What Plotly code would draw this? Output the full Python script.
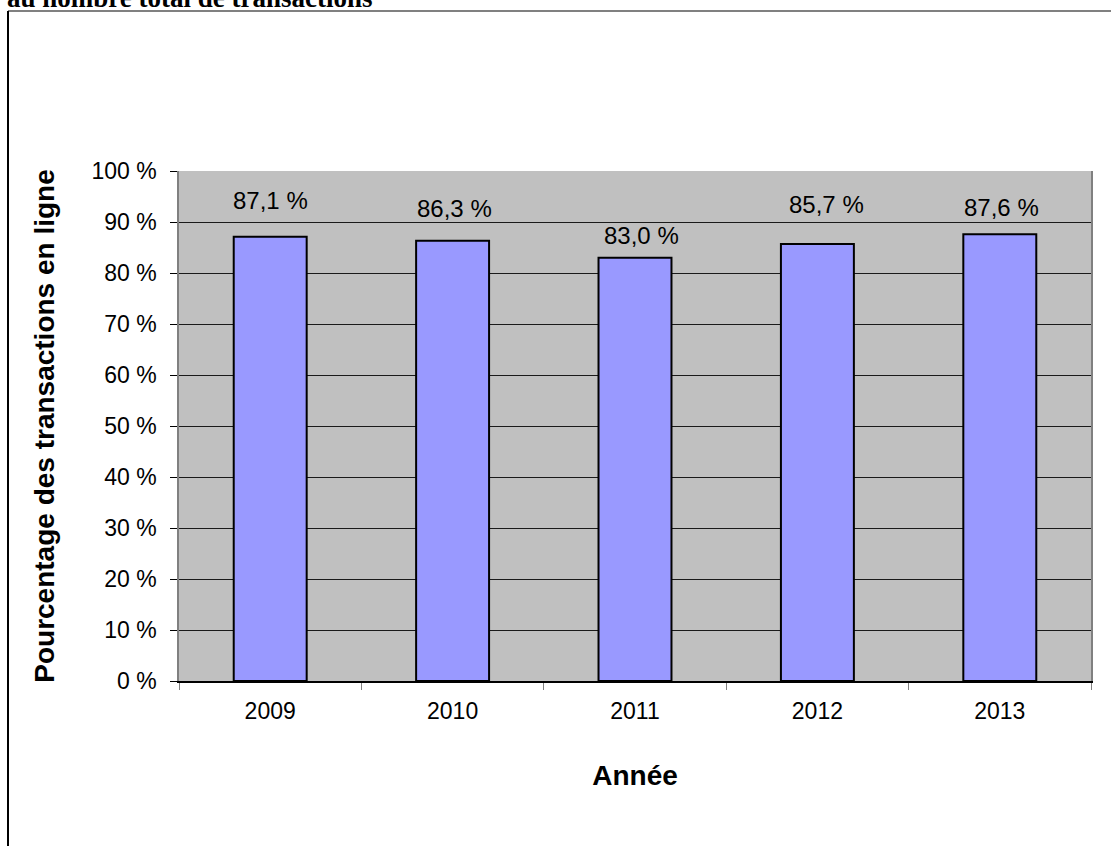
import plotly.graph_objects as go

years = ["2009", "2010", "2011", "2012", "2013"]
pct_online = [87.1, 86.3, 83.0, 85.7, 87.6]
label_yshift = [36, 32, 22, 39, 27]
label_xshift = [0, 2, 6, 9, 2]

title_text = "au nombre total de transactions"
x_title = "Année"
y_title = "Pourcentage des transactions en ligne"

FONT = "Arial, Liberation Sans, sans-serif"

fig = go.Figure()
fig.add_trace(go.Bar(
    x=years, y=pct_online, width=0.4,
    marker=dict(color="#9999FF", line=dict(color="#000000", width=2)),
    hoverinfo="skip",
))

for i, (v, ys, xs) in enumerate(zip(pct_online, label_yshift, label_xshift)):
    fig.add_annotation(
        x=i, y=v, text=f"{v:.1f} %".replace(".", ","), showarrow=False,
        yshift=ys, xshift=xs, yanchor="middle", xanchor="center",
        font=dict(family=FONT, size=24, color="#000000"),
    )

W, H = 1111, 846
ml, mr, mt, mb = 179, 20, 171, 165
pw, ph = W - ml - mr, H - mt - mb

def px_x(p):
    return (p - ml) / pw

def px_y(p):
    return (H - mb - p) / ph

# cut-off heading
fig.add_annotation(
    xref="paper", yref="paper", x=px_x(5), y=px_y(15), xanchor="left", yanchor="bottom",
    text=f"<b>{title_text}</b>", showarrow=False,
    font=dict(family="Times New Roman, Liberation Serif, serif", size=27, color="#000000"),
)

# frame lines
fig.add_shape(type="line", xref="paper", yref="paper",
              x0=px_x(8), x1=px_x(1115), y0=px_y(11), y1=px_y(11),
              line=dict(color="#808080", width=2), layer="above")
fig.add_shape(type="line", xref="paper", yref="paper",
              x0=px_x(8), x1=px_x(8), y0=px_y(11), y1=px_y(850),
              line=dict(color="#000000", width=2), layer="above")

fig.update_layout(
    width=W, height=H,
    margin=dict(l=ml, r=mr, t=mt, b=mb, autoexpand=False),
    paper_bgcolor="#FFFFFF", plot_bgcolor="#C0C0C0",
    showlegend=False,
    font=dict(family=FONT, color="#000000"),
)
fig.update_xaxes(
    type="category", range=[-0.5, len(years) - 0.5],
    tickson="boundaries", ticks="outside", ticklen=7, tickcolor="#808080",
    showline=True, linecolor="#000000", linewidth=1.5, mirror=False,
    showgrid=False, tickangle=0,
    tickfont=dict(family=FONT, size=23, color="#000000"),
    ticklabelstandoff=9,
    title=dict(text=f"<b>{x_title}</b>", font=dict(family=FONT, size=28, color="#000000"), standoff=42),
    automargin=False,
)
fig.update_yaxes(
    range=[0, 100], dtick=10, ticksuffix=" %", ticks="outside", ticklen=7, tickcolor="#000000",
    showline=True, linecolor="#808080", linewidth=1.5, mirror=True,
    showgrid=True, gridcolor="#1a1a1a", gridwidth=1,
    zeroline=False,
    tickfont=dict(family=FONT, size=23, color="#000000"),
    ticklabelstandoff=9,
    title=dict(text=f"<b>{y_title}</b>", font=dict(family=FONT, size=28, color="#000000"), standoff=29),
    automargin=False,
)

fig.write_html("out.html", config={"displayModeBar": False},
               post_script="document.body.style.margin='0';")
